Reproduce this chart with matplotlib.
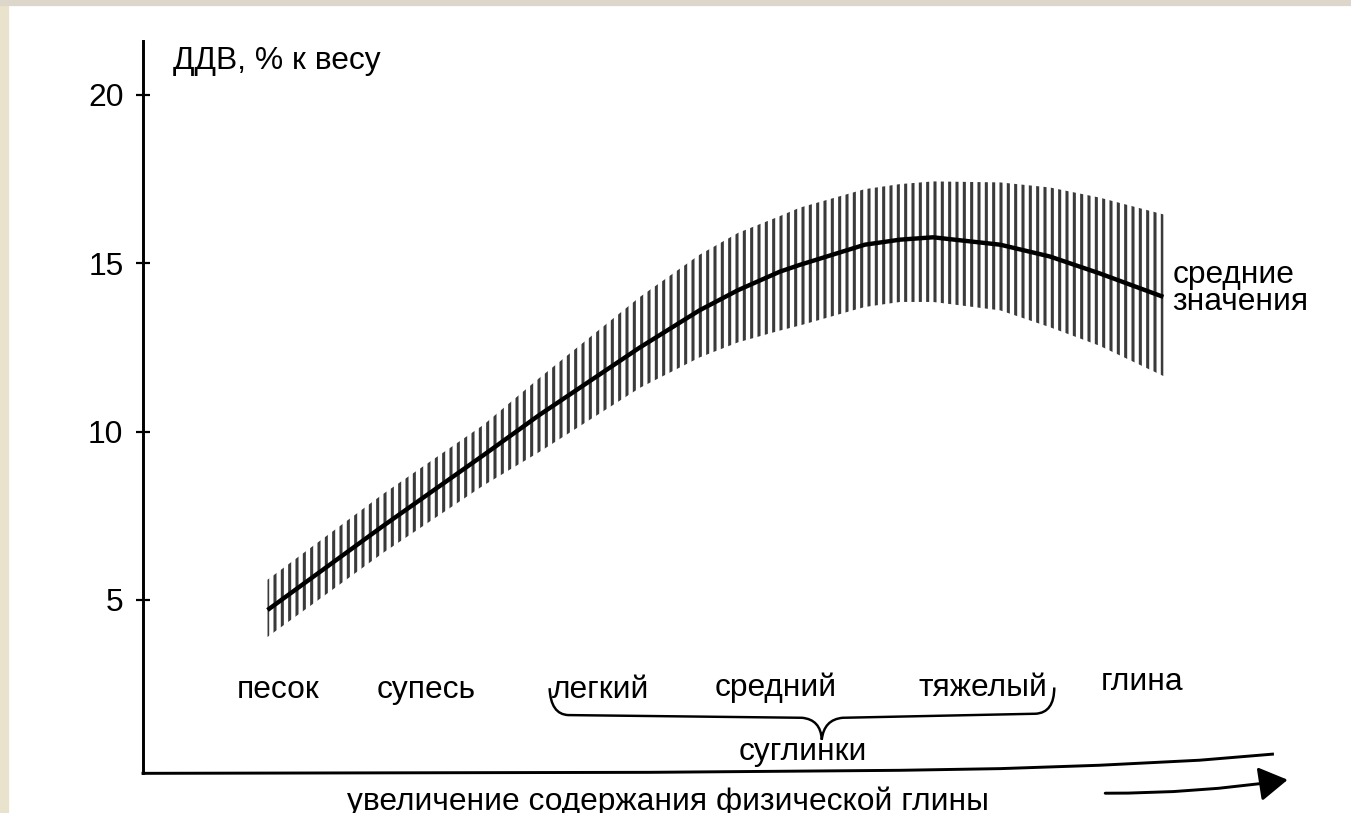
import matplotlib.pyplot as plt
from matplotlib.patches import Rectangle, PathPatch
from matplotlib.path import Path

# шрифт похожий на Arial
plt.rcParams['font.family'] = ['Liberation Sans', 'DejaVu Sans']
plt.rcParams['hatch.linewidth'] = 2.5

# содержание физической глины (условная шкала, без делений)
clay = [11.3, 21.8, 30.9, 36.0, 45.1, 50.5, 54.0, 57.8, 59.6, 65.5, 68.7, 71.7, 77.8, 82.3, 86.8, 92.6]
# ДДВ, % к весу: средние значения и границы разброса
ddv_mean = [4.7, 7.2, 9.3, 10.5, 12.5, 13.6, 14.2, 14.75, 14.95, 15.55, 15.7, 15.77, 15.55, 15.2, 14.7, 14.0]
ddv_top = [5.6, 8.15, 10.2, 11.6, 14.0, 15.25, 15.9, 16.4, 16.65, 17.2, 17.35, 17.43, 17.4, 17.25, 16.95, 16.45]
ddv_bottom = [3.9, 6.4, 8.4, 9.4, 11.3, 12.2, 12.65, 13.0, 13.15, 13.7, 13.85, 13.85, 13.6, 13.1, 12.55, 11.65]

yticks = [5, 10, 15, 20]

# названия почв по гранулометрическому составу
soil_names = ['песок', 'супесь', 'легкий', 'средний', 'тяжелый', 'глина']
soil_x = [12.25, 25.7, 41.5, 57.4, 76.2, 90.7]
soil_y = [2.32, 2.32, 2.32, 2.38, 2.38, 2.55]

DPI = 88
FS = 26
fig = plt.figure(figsize=(1351 / DPI, 813 / DPI), dpi=DPI)
fig.patch.set_facecolor('white')

# бежевая рамка слева и сверху
fig.patches.append(Rectangle((0, 0), 8 / 1351, 1, transform=fig.transFigure,
                             color='#e9e3cd', zorder=-1))
fig.patches.append(Rectangle((0, 1 - 5 / 813), 1, 5 / 813, transform=fig.transFigure,
                             color='#ddd6ca', zorder=-1))

ax = fig.add_axes([143 / 1351, (813 - 773) / 813, 1157 / 1351, 732 / 813])
ax.set_xlim(0, 105)
ax.set_ylim(-0.14, 21.6)
ax.set_facecolor('none')

# заштрихованная область разброса
ax.fill_between(clay, ddv_bottom, ddv_top, facecolor='none', edgecolor='#3a3a3a',
                hatch='||', linewidth=0)
# средние значения
ax.plot(clay, ddv_mean, color='black', lw=3.6, solid_capstyle='butt')

# оси
for s in ['top', 'right', 'bottom']:
    ax.spines[s].set_visible(False)
ax.spines['left'].set_linewidth(2.4)
ax.set_xticks([])
ax.set_yticks(yticks)
ax.tick_params(axis='y', direction='inout', length=12, width=1.8, labelsize=FS, pad=10)

# нижняя ось, слегка загнутая вверх справа
ax.plot([0, 46.0, 68.7, 77.8, 86.8, 95.9, 102.5],
        [-0.15, -0.12, -0.06, -0.01, 0.09, 0.24, 0.42],
        color='black', lw=2.4, clip_on=False)

# стрелка под осью
ax.annotate('', xy=(104.1, -0.33), xytext=(87.1, -0.74),
            arrowprops=dict(arrowstyle='-|>,head_length=1.0,head_width=0.6',
                            mutation_scale=20, lw=2.4, color='black',
                            connectionstyle='arc3,rad=0.04'),
            annotation_clip=False)

# подписи
ax.text(2.7, 21.0, 'ДДВ, % к весу', fontsize=FS, ha='left', va='center')
for name, x, y in zip(soil_names, soil_x, soil_y):
    ax.text(x, y, name, fontsize=FS, ha='center', va='center')
ax.text(59.9, 0.48, 'суглинки', fontsize=FS, ha='center', va='center')
ax.text(93.4, 14.25, 'средние\nзначения', fontsize=FS, ha='left', va='center',
        linespacing=0.85)
ax.text(47.6, -1.24, 'увеличение содержания физической глины', fontsize=FS,
        ha='center', va='baseline', clip_on=False)

# фигурная скобка под суглинками
verts = [(36.9, 2.38), (37.0, 1.6), (38.6, 1.58), (59.8, 1.50),
         (61.5, 1.45), (61.6, 0.85), (61.8, 1.45), (63.5, 1.50),
         (81.0, 1.62), (82.7, 1.65), (82.7, 2.40)]
codes = [Path.MOVETO, Path.CURVE3, Path.CURVE3, Path.LINETO,
         Path.CURVE3, Path.CURVE3, Path.CURVE3, Path.CURVE3,
         Path.LINETO, Path.CURVE3, Path.CURVE3]
ax.add_patch(PathPatch(Path(verts, codes), facecolor='none', edgecolor='black', lw=2.0))

fig.savefig('out.png', dpi=DPI)
